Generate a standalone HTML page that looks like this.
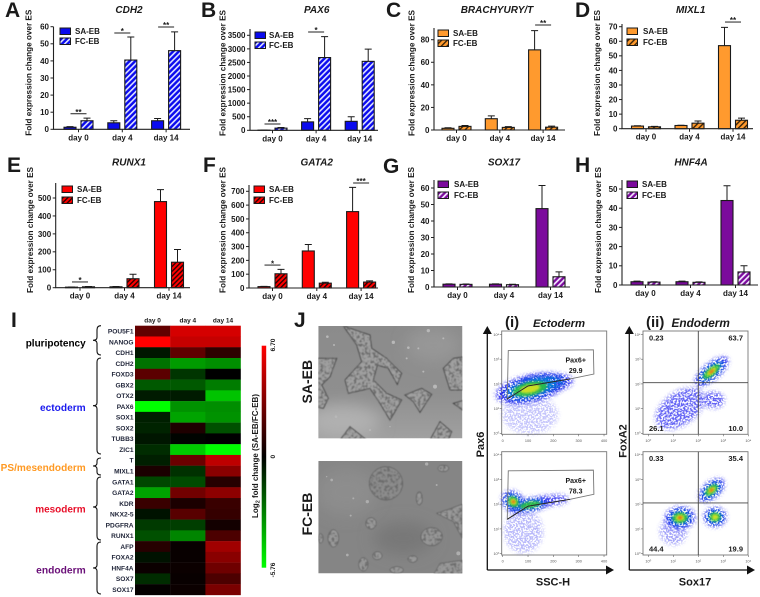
<!DOCTYPE html>
<html lang="en">
<head>
<meta charset="utf-8">
<title>Gene expression figure</title>
<style>
html,body{margin:0;padding:0;background:#fff;}
svg{display:block;font-family:"Liberation Sans",sans-serif;}
text{fill:#1a1a1a;}
.bold{font-weight:bold;}
</style>
</head>
<body>
<svg id="figure" xmlns="http://www.w3.org/2000/svg" width="760" height="597" viewBox="0 0 760 597">
<defs>
<pattern id="hatch-blue" patternUnits="userSpaceOnUse" width="4" height="4" patternTransform="rotate(-45)"><rect width="4" height="4" fill="#0a0aee"/><rect width="4" height="1.6" fill="#dfe3ff"/></pattern>
<pattern id="hatch-orange" patternUnits="userSpaceOnUse" width="4" height="4" patternTransform="rotate(-45)"><rect width="4" height="4" fill="#ff9a2e"/><rect width="4" height="1.4" fill="#3a2408"/></pattern>
<pattern id="hatch-red" patternUnits="userSpaceOnUse" width="3.4" height="3.4" patternTransform="rotate(-45)"><rect width="3.4" height="3.4" fill="#ff0000"/><rect width="3.4" height="1.4" fill="#300000"/></pattern>
<pattern id="hatch-purple" patternUnits="userSpaceOnUse" width="4" height="4" patternTransform="rotate(-45)"><rect width="4" height="4" fill="#7b0a9c"/><rect width="4" height="1.7" fill="#f3e6ff"/></pattern>
<linearGradient id="colorbar-gradient" x1="0" y1="0" x2="0" y2="1"><stop offset="0" stop-color="#ff0000"/><stop offset=".5" stop-color="#000"/><stop offset="1" stop-color="#00ff00"/></linearGradient>
<linearGradient id="sa-bg" x1="0" y1="0" x2="0" y2="1"><stop offset="0" stop-color="#8b8b8b"/><stop offset=".6" stop-color="#8f8f8f"/><stop offset="1" stop-color="#a0a0a0"/></linearGradient>
<filter id="blur-big" x="-50%" y="-50%" width="200%" height="200%"><feGaussianBlur stdDeviation="22"/></filter>
<filter id="soft" x="-30%" y="-30%" width="160%" height="160%"><feGaussianBlur stdDeviation="1.1"/></filter>
<filter id="speckle" x="-40%" y="-40%" width="180%" height="180%">
  <feGaussianBlur in="SourceGraphic" stdDeviation="2.5" result="b"/>
  <feTurbulence type="fractalNoise" baseFrequency="0.6" numOctaves="1" seed="7" result="n"/>
  <feColorMatrix in="n" type="matrix" values="0 0 0 0 0  0 0 0 0 0  0 0 0 0 0  9 0 0 0 -3.9" result="m"/>
  <feComposite in="b" in2="m" operator="in" result="c"/>
  <feGaussianBlur in="c" stdDeviation="0.2"/>
</filter>
<filter id="cells" x="0" y="0" width="100%" height="100%">
  <feTurbulence type="fractalNoise" baseFrequency="0.12" numOctaves="2" seed="4" result="n"/>
  <feColorMatrix in="n" type="matrix" values="0 0 0 0 0.15  0 0 0 0 0.15  0 0 0 0 0.15  5 0 0 0 -2.3" result="d"/>
  <feComposite in="d" in2="SourceAlpha" operator="in" result="dk"/>
  <feMerge result="mg"><feMergeNode in="SourceGraphic"/><feMergeNode in="dk"/></feMerge>
  <feGaussianBlur in="mg" stdDeviation="1.5"/>
</filter>
<clipPath id="clip-sa"><rect x="85" y="63" width="432" height="337"/></clipPath>
<clipPath id="clip-fc"><rect x="85" y="468" width="432" height="337"/></clipPath>
</defs>

<g id="bar-charts"></g>

<g class="bold" font-size="21">
<text x="5" y="17">A</text>
<text x="201" y="17">B</text>
<text x="386" y="17">C</text>
<text x="575" y="17">D</text>
<text x="7" y="172">E</text>
<text x="203" y="172">F</text>
<text x="383" y="173">G</text>
<text x="575" y="172">H</text>
<text x="11" y="327">I</text>
<text x="294" y="327">J</text>
</g>

<g id="heatmap"></g>

<g class="bold" font-size="10" text-anchor="end">
<text x="85.7" y="346.5" textLength="60" lengthAdjust="spacingAndGlyphs" style="fill:#000">pluripotency</text>
<text x="85.7" y="411" textLength="45.7" lengthAdjust="spacingAndGlyphs" style="fill:#1a1aee">ectoderm</text>
<text x="85.7" y="470.8" textLength="85" lengthAdjust="spacingAndGlyphs" style="fill:#ff9922">PS/mesendoderm</text>
<text x="85.7" y="512.5" textLength="50.5" lengthAdjust="spacingAndGlyphs" style="fill:#e8102a">mesoderm</text>
<text x="85.7" y="573.5" textLength="49.5" lengthAdjust="spacingAndGlyphs" style="fill:#6a0f78">endoderm</text>
</g>
<g fill="none" stroke="#111" stroke-width="1.1">
<path d="M101 325.7q-4 0-4 4V337.3q0 3-4 3q4 0 4 3V351q0 4 4 4"/>
<path d="M101 358q-4 0-4 4V402.7q0 3-4 3q4 0 4 3V450q0 4 4 4"/>
<path d="M101 458q-4 0-4 3V463q0 3-4 3q4 0 4 3V472q0 3 4 3"/>
<path d="M101 477q-4 0-4 4V504q0 3-4 3q4 0 4 3V536q0 4 4 4"/>
<path d="M101 542q-4 0-4 4V565q0 3-4 3q4 0 4 3V590q0 4 4 4"/>
</g>

<g>
<rect x="261.7" y="345.7" width="4.5" height="222" fill="url(#colorbar-gradient)"/>
<text class="bold" font-size="6.5" text-anchor="middle" transform="translate(275,345) rotate(-90)">6.70</text>
<text class="bold" font-size="6.5" text-anchor="middle" transform="translate(275,456.7) rotate(-90)">0</text>
<text class="bold" font-size="6.5" text-anchor="middle" transform="translate(275,570) rotate(-90)">-5.76</text>
<text class="bold" font-size="8" text-anchor="middle" transform="translate(258,456) rotate(-90)">Log<tspan font-size="5.5" dy="1.5">2</tspan><tspan dy="-1.5"> fold change (SA-EB/FC-EB)</tspan></text>
</g>

<g transform="translate(290,305) scale(.33333)">
<g clip-path="url(#clip-sa)">
<rect x="85" y="63" width="432" height="337" fill="url(#sa-bg)"/>
<ellipse cx="160" cy="350" rx="110" ry="50" fill="#b0b0b0" filter="url(#blur-big)"/>
<ellipse cx="430" cy="120" rx="80" ry="50" fill="#979797" filter="url(#blur-big)"/>
<g filter="url(#cells)" fill="#a0a0a0" stroke="#444" stroke-width="3">
<path d="M160 63L240 90L245 130L290 160L335 205L322 238L295 190L262 180L250 225L290 265L335 285L300 345L270 295L240 250L175 265L165 225L215 170L200 120Z"/>
<path d="M345 270L395 250L425 268L390 322L370 290Z"/>
<path d="M460 190L490 160L525 155V255H480Z"/>
<path d="M75 160H140L120 215L95 240L115 280L100 310L75 305Z"/>
<path d="M150 405L180 365L230 405Z"/>
<path d="M420 405L450 350L485 380L475 405Z"/>
<path d="M490 295L525 285V320Z"/>
</g>
<g fill="#b8b8b8">
<circle cx="112" cy="95" r="4"/><circle cx="132" cy="120" r="3"/><circle cx="310" cy="112" r="5"/><circle cx="355" cy="128" r="4"/><circle cx="415" cy="77" r="5"/><circle cx="435" cy="245" r="6"/><circle cx="460" cy="100" r="3"/><circle cx="385" cy="130" r="3"/><circle cx="350" cy="160" r="3"/><circle cx="138" cy="335" r="4"/><circle cx="240" cy="375" r="3"/><circle cx="400" cy="200" r="3"/><circle cx="300" cy="365" r="2"/>
</g>
</g>
<g clip-path="url(#clip-fc)">
<rect x="85" y="468" width="432" height="337" fill="#858585"/>
<ellipse cx="170" cy="560" rx="90" ry="70" fill="#8d8d8d" filter="url(#blur-big)"/>
<ellipse cx="340" cy="700" rx="90" ry="50" fill="#787878" filter="url(#blur-big)"/>
<g filter="url(#cells)" fill="#999" stroke="#3a3a3a" stroke-width="1.5">
<ellipse cx="288" cy="535" rx="50" ry="50" fill="#8c8c8c"/>
<ellipse cx="425" cy="695" rx="32" ry="27" fill="#969696"/>
<path d="M440 625L517 598V700L490 650Z"/>
<path d="M430 810L450 775L525 765V810Z"/>
<ellipse cx="130" cy="700" rx="16" ry="26"/>
<ellipse cx="243" cy="655" rx="16" ry="17"/>
<ellipse cx="388" cy="580" rx="9" ry="20"/>
<ellipse cx="262" cy="752" rx="14" ry="12"/>
<ellipse cx="220" cy="778" rx="14" ry="20"/>
<ellipse cx="368" cy="762" rx="14" ry="10"/>
<ellipse cx="320" cy="795" rx="20" ry="10"/>
<ellipse cx="460" cy="490" rx="16" ry="10"/>
<ellipse cx="92" cy="700" rx="7" ry="14"/>
</g>
<g fill="#aeaeae">
<circle cx="125" cy="525" r="4"/><circle cx="190" cy="580" r="3"/><circle cx="410" cy="477" r="5"/><circle cx="182" cy="632" r="3"/><circle cx="232" cy="590" r="5"/><circle cx="440" cy="540" r="3"/><circle cx="172" cy="750" r="4"/><circle cx="505" cy="745" r="6"/><circle cx="110" cy="515" r="2"/>
</g>
</g>
</g>
<text class="bold" font-size="14" text-anchor="middle" transform="translate(312,381.7) rotate(-90)">SA-EB</text>
<text class="bold" font-size="14" text-anchor="middle" transform="translate(312,514) rotate(-90)">FC-EB</text>

<g id="flow-plots"></g>

<g>
<text class="bold" font-size="15" x="505" y="327">(i)</text>
<text class="bold" font-style="italic" font-size="11.3" x="533" y="327">Ectoderm</text>
<text class="bold" font-size="15" x="646" y="327">(ii)</text>
<text class="bold" font-style="italic" font-size="11.8" x="671.5" y="327">Endoderm</text>
<text class="bold" font-size="11" text-anchor="middle" x="553" y="585.5">SSC-H</text>
<text class="bold" font-size="11" text-anchor="middle" x="695" y="585.5">Sox17</text>
<text class="bold" font-size="11" text-anchor="middle" transform="translate(484,444.5) rotate(-90)">Pax6</text>
<text class="bold" font-size="11" text-anchor="middle" transform="translate(626.5,441) rotate(-90)">FoxA2</text>
<g fill="none" stroke="#111" stroke-width="1.3">
<path d="M487.3 570V332"/>
<path d="M487.3 570H608"/>
<path d="M629.3 570V332"/>
<path d="M629.3 570H749"/>
</g>
<g fill="#111">
<path d="M487.3 326l-4.5 8h9z"/>
<path d="M614 570l-8-4.5v9z"/>
<path d="M629.3 326l-4.5 8h9z"/>
<path d="M755 570l-8-4.5v9z"/>
</g>
</g>

<script>
// ---------- Bar chart data ----------
const dayCategories = ['day 0', 'day 4', 'day 14'];
const legendLabels = ['SA-EB', 'FC-EB'];

const cdh2Sa = [1.2, 3.8, 5];
const cdh2SaErr = [0.4, 1.2, 1.3];
const cdh2Fc = [5, 40.5, 46];
const cdh2FcErr = [1.5, 13.5, 11];
const cdh2Ticks = [0, 10, 20, 30, 40, 50, 60];
const cdh2SigGroups = [0, 1, 2];
const cdh2SigLevels = [9.1, 56.3, 59.8];
const cdh2SigLabels = ['**', '*', '**'];

const pax6Sa = [5, 310, 330];
const pax6SaErr = [5, 120, 170];
const pax6Fc = [80, 2680, 2540];
const pax6FcErr = [25, 770, 450];
const pax6Ticks = [0, 500, 1000, 1500, 2000, 2500, 3000, 3500];
const pax6SigGroups = [0, 1];
const pax6SigLevels = [232, 3622];
const pax6SigLabels = ['***', '*'];

const brachyurySa = [1.5, 10, 71];
const brachyurySaErr = [0.5, 2.5, 17];
const brachyuryFc = [3.2, 2.3, 2.5];
const brachyuryFcErr = [0.8, 0.7, 0.9];
const brachyuryTicks = [0, 20, 40, 60, 80];
const brachyurySigGroups = [2];
const brachyurySigLevels = [93];
const brachyurySigLabels = ['**'];

const mixl1Sa = [1.8, 2.2, 57];
const mixl1SaErr = [0.2, 0.2, 12.5];
const mixl1Fc = [1.3, 3.8, 5.8];
const mixl1FcErr = [0.3, 1.5, 1.5];
const mixl1Ticks = [0, 10, 20, 30, 40, 50, 60, 70];
const mixl1SigGroups = [2];
const mixl1SigLevels = [73.2];
const mixl1SigLabels = ['**'];

const runx1Sa = [3, 5, 480];
const runx1SaErr = [1, 2, 67];
const runx1Fc = [5, 50, 142];
const runx1FcErr = [2, 25, 71];
const runx1Ticks = [0, 100, 200, 300, 400, 500];
const runx1SigGroups = [0];
const runx1SigLevels = [32];
const runx1SigLabels = ['*'];

const gata2Sa = [10, 268, 553];
const gata2SaErr = [2, 47, 175];
const gata2Fc = [103, 35, 43];
const gata2FcErr = [32, 7, 9];
const gata2Ticks = [0, 100, 200, 300, 400, 500, 600, 700];
const gata2SigGroups = [0, 2];
const gata2SigLevels = [166, 760];
const gata2SigLabels = ['*', '***'];

const sox17Sa = [1.7, 1.7, 47.5];
const sox17SaErr = [0.2, 0.2, 14];
const sox17Fc = [1.6, 1.4, 6.2];
const sox17FcErr = [0.2, 0.3, 3];
const sox17Ticks = [0, 10, 20, 30, 40, 50, 60];
const sox17SigGroups = [];
const sox17SigLevels = [];
const sox17SigLabels = [];

const hnf4aSa = [1.7, 1.7, 44];
const hnf4aSaErr = [0.3, 0.3, 7.7];
const hnf4aFc = [1.5, 1.4, 6.8];
const hnf4aFcErr = [0.2, 0.2, 3.2];
const hnf4aTicks = [0, 10, 20, 30, 40, 50];
const hnf4aSigGroups = [];
const hnf4aSigLevels = [];
const hnf4aSigLabels = [];

// ---------- Heatmap data ----------
const heatGenes = ['POU5F1','NANOG','CDH1','CDH2','FOXD3','GBX2','OTX2','PAX6','SOX1','SOX2','TUBB3','ZIC1','T','MIXL1','GATA1','GATA2','KDR','NKX2-5','PDGFRA','RUNX1','AFP','FOXA2','HNF4A','SOX7','SOX17'];
const heatDay0 = [2.6, 6.7, -0.5, -2.6, 2.4, -2.0, -0.6, -5.76, -0.7, -0.8, -0.5, -1.0, -0.7, 0.7, -1.6, -3.7, 1.5, -0.4, -1.3, -1.8, 1.0, -0.4, 0.3, -1.0, 0.1];
const heatDay4 = [5.6, 5.2, 2.5, -3.5, -1.2, -2.0, -0.6, -3.3, -3.7, 0.8, -0.1, -4.6, 2.8, -1.1, -1.7, 3.0, 0.7, 2.3, -1.4, -3.0, 0.2, 0.2, 0.3, 0.2, 0.3];
const heatDay14 = [5.6, 5.2, 1.2, -3.2, 0, -2.8, -4.4, -3.2, -3.3, -1.8, 0, -5.76, 5.0, 3.6, 1.0, 3.7, 1.5, 1.4, 0.5, 2.0, 4.2, 3.6, 2.9, 2.0, 3.2];

// ---------- Flow cytometry cluster data (axis units) ----------
const flowSscTicks = [0, 100, 200, 300, 400];
const flowLogTicks = [0, 1, 2, 3, 4];
const flowLogLabels = ['10\u2070', '10\u00B9', '10\u00B2', '10\u00B3', '10\u2074'];

const ectoTopX = [108, 167, 108];
const ectoTopY = [1.8, 2.03, 0.75];
const ectoTopSpreadX = [125, 100, 100];
const ectoTopSpreadY = [0.5, 0.35, 0.7];
const ectoTopTilt = [-12, -5, 0];
const ectoTopPeak = [3, 1, 0];
const ectoTopDensity = [1, 1, 0.25];

const ectoBottomX = [42, 108, 193, 82];
const ectoBottomY = [2.1, 1.97, 2.16, 0.9];
const ectoBottomSpreadX = [35, 75, 60, 70];
const ectoBottomSpreadY = [0.45, 0.25, 0.2, 0.8];
const ectoBottomTilt = [-50, -10, -5, 0];
const ectoBottomPeak = [4, 2, 0, 0];
const ectoBottomDensity = [1, 1, 0.8, 0.3];

const endoTopX = [2.53, 1.27, 2.6];
const endoTopY = [2.5, 1.0, 1.35];
const endoTopSpreadX = [0.75, 1.0, 0.4];
const endoTopSpreadY = [0.3, 0.6, 0.3];
const endoTopTilt = [-40, -35, 0];
const endoTopPeak = [4, 0, 0];
const endoTopDensity = [1, 0.7, 0.7];

const endoBottomX = [1.27, 2.53, 2.67, 1.0];
const endoBottomY = [1.45, 2.57, 1.48, 0.9];
const endoBottomSpreadX = [0.55, 0.55, 0.4, 0.5];
const endoBottomSpreadY = [0.4, 0.3, 0.35, 0.5];
const endoBottomTilt = [-5, -40, 0, 0];
const endoBottomPeak = [4, 4, 3, 0];
const endoBottomDensity = [1, 1, 1, 0.4];

const gateSsc = [22, 358, 360, 266, 100, 18];
const gateLog = [3.35, 3.38, 2.4, 2.2, 1.92, 1.39];
const gatePercents = ['29.9', '78.3'];
const quadrantSplitX = 2.0;
const quadrantSplitY = 2.05;
const quadrantTop = ['0.23', '63.7', '26.1', '10.0'];
const quadrantBottom = ['0.33', '35.4', '44.4', '19.9'];

// ---------- Helpers ----------
const NS = 'http://www.w3.org/2000/svg';
function make(tag, attrs, parent, content) {
  const node = document.createElementNS(NS, tag);
  for (const key in attrs) node.setAttribute(key, attrs[key]);
  if (content !== undefined) node.textContent = content;
  parent.appendChild(node);
  return node;
}

// ---------- Bar charts ----------
const chartRoot = document.getElementById('bar-charts');
const chartDefs = [
  {gene:'CDH2', sa:cdh2Sa, saErr:cdh2SaErr, fc:cdh2Fc, fcErr:cdh2FcErr, ticks:cdh2Ticks, sigG:cdh2SigGroups, sigV:cdh2SigLevels, sigL:cdh2SigLabels,
   fill:'#0a0aee', hatch:'hatch-blue', axisX:53.5, axisEnd:190, top:26.7, y0:129.3, refV:60, refY:26.7, c0:78.5, step:43.8, titleX:129, titleY:13, ylabX:31.5, ylabY:72.7, legX:60, legY:[28,38], legTX:75},
  {gene:'PAX6', sa:pax6Sa, saErr:pax6SaErr, fc:pax6Fc, fcErr:pax6FcErr, ticks:pax6Ticks, sigG:pax6SigGroups, sigV:pax6SigLevels, sigL:pax6SigLabels,
   fill:'#0a0aee', hatch:'hatch-blue', axisX:250, axisEnd:378, top:29, y0:130.3, refV:3500, refY:35.3, c0:272.5, step:43.6, titleX:316.7, titleY:13, ylabX:225.5, ylabY:73, legX:255, legY:[32,42], legTX:269},
  {gene:'BRACHYURY/T', sa:brachyurySa, saErr:brachyurySaErr, fc:brachyuryFc, fcErr:brachyuryFcErr, ticks:brachyuryTicks, sigG:brachyurySigGroups, sigV:brachyurySigLevels, sigL:brachyurySigLabels,
   fill:'#ff9a2e', hatch:'hatch-orange', axisX:434, axisEnd:565, top:28, y0:130, refV:80, refY:39.7, c0:456.5, step:43.3, titleX:497, titleY:13, ylabX:414.5, ylabY:73, legX:438, legY:[30,40], legTX:453},
  {gene:'MIXL1', sa:mixl1Sa, saErr:mixl1SaErr, fc:mixl1Fc, fcErr:mixl1FcErr, ticks:mixl1Ticks, sigG:mixl1SigGroups, sigV:mixl1SigLevels, sigL:mixl1SigLabels,
   fill:'#ff9a2e', hatch:'hatch-orange', axisX:622, axisEnd:753, top:24, y0:128.7, refV:70, refY:26.7, c0:646, step:43.5, titleX:690.7, titleY:13, ylabX:600, ylabY:73, legX:627, legY:[28,39], legTX:643},
  {gene:'RUNX1', sa:runx1Sa, saErr:runx1SaErr, fc:runx1Fc, fcErr:runx1FcErr, ticks:runx1Ticks, sigG:runx1SigGroups, sigV:runx1SigLevels, sigL:runx1SigLabels,
   fill:'#ff0000', hatch:'hatch-red', axisX:55.7, axisEnd:190, top:183, y0:287.7, refV:500, refY:198, c0:80, step:44.5, titleX:129, titleY:165.5, ylabX:33, ylabY:230, legX:62, legY:[186,197], legTX:77},
  {gene:'GATA2', sa:gata2Sa, saErr:gata2SaErr, fc:gata2Fc, fcErr:gata2FcErr, ticks:gata2Ticks, sigG:gata2SigGroups, sigV:gata2SigLevels, sigL:gata2SigLabels,
   fill:'#ff0000', hatch:'hatch-red', axisX:249, axisEnd:378, top:185, y0:288, refV:700, refY:191.3, c0:272.5, step:44.3, titleX:316.7, titleY:165.5, ylabX:225.5, ylabY:230, legX:254, legY:[186,197], legTX:269},
  {gene:'SOX17', sa:sox17Sa, saErr:sox17SaErr, fc:sox17Fc, fcErr:sox17FcErr, ticks:sox17Ticks, sigG:sox17SigGroups, sigV:sox17SigLevels, sigL:sox17SigLabels,
   fill:'#7b0a9c', hatch:'hatch-purple', axisX:434, axisEnd:570, top:180, y0:287, refV:60, refY:188, c0:457.5, step:46.5, titleX:504, titleY:165.5, ylabX:414, ylabY:230, legX:438, legY:[181,192], legTX:454},
  {gene:'HNF4A', sa:hnf4aSa, saErr:hnf4aSaErr, fc:hnf4aFc, fcErr:hnf4aFcErr, ticks:hnf4aTicks, sigG:hnf4aSigGroups, sigV:hnf4aSigLevels, sigL:hnf4aSigLabels,
   fill:'#7b0a9c', hatch:'hatch-purple', axisX:622, axisEnd:758, top:180, y0:285, refV:50, refY:189, c0:645.5, step:45, titleX:691, titleY:165.5, ylabX:601, ylabY:230, legX:627, legY:[181,192], legTX:642}
];
const BAR_W = 12, BAR_OFF = 2.5;

chartDefs.forEach(function (c) {
  const key = c.gene.toLowerCase().replace('/', '-');
  const yScale = function (v) { return c.y0 - (c.y0 - c.refY) * v / c.refV; };
  const xScale = function (i) { return c.c0 + i * c.step; };

  const g = make('g', {}, chartRoot);
  
  

  const title = make('text', {x:c.titleX, y:c.titleY, 'text-anchor':'middle', 'font-size':10, 'font-weight':'bold', 'font-style':'italic'}, g, c.gene);
  
  

  const ylab = make('text', {transform:'translate(' + c.ylabX + ',' + c.ylabY + ') rotate(-90)', 'text-anchor':'middle', 'font-size':8.5, 'font-weight':'bold', textLength:126, lengthAdjust:'spacingAndGlyphs'}, g, 'Fold expression change over ES');
  
  

  [{vals:c.sa, errs:c.saErr, fill:c.fill, off:-BAR_OFF - BAR_W, tag:'sa'},
   {vals:c.fc, errs:c.fcErr, fill:'url(#' + c.hatch + ')', off:BAR_OFF, tag:'fc'}].forEach(function (s) {
    s.vals.forEach(function (v, i) {
      const left = xScale(i) + s.off;
      const cx = left + BAR_W / 2;
      const errLine = make('path', {d:'M' + cx + ' ' + yScale(v) + 'V' + yScale(v + s.errs[i]) + 'm-3.5 0h7', fill:'none', stroke:'#1a1a1a', 'stroke-width':1}, g);
      
      
      const bar = make('rect', {x:left, y:yScale(v), width:BAR_W, height:Math.max(0, c.y0 - yScale(v)), fill:s.fill, stroke:'#1a1a1a', 'stroke-width':1.1}, g);
      
      
    });
  });

  const axes = make('path', {d:'M' + c.axisX + ' ' + c.top + 'V' + c.y0 + 'H' + c.axisEnd, fill:'none', stroke:'#222', 'stroke-width':1.1}, g);
  
  

  c.ticks.forEach(function (t) {
    const tick = make('line', {x1:c.axisX - 3, x2:c.axisX, y1:yScale(t), y2:yScale(t), stroke:'#222', 'stroke-width':1}, g);
    
    
    const lab = make('text', {x:c.axisX - 4.5, y:yScale(t) + 2.9, 'text-anchor':'end', 'font-size':8, 'font-weight':'bold'}, g, String(t));
    
    
  });

  dayCategories.forEach(function (d, i) {
    const tick = make('line', {x1:xScale(i), x2:xScale(i), y1:c.y0, y2:c.y0 + 3, stroke:'#222', 'stroke-width':1}, g);
    
    
    const lab = make('text', {x:xScale(i), y:c.y0 + 11, 'text-anchor':'middle', 'font-size':8, 'font-weight':'bold'}, g, d);
    
    
  });

  c.sigG.forEach(function (grp, i) {
    const y = yScale(c.sigV[i]);
    const line = make('line', {x1:xScale(grp) - 8, x2:xScale(grp) + 8, y1:y, y2:y, stroke:'#222', 'stroke-width':1}, g);
    
    
    const star = make('text', {x:xScale(grp), y:y + 1.2, 'text-anchor':'middle', 'font-size':8, 'font-weight':'bold'}, g, c.sigL[i]);
    
    
  });

  legendLabels.forEach(function (label, i) {
    const sw = make('rect', {x:c.legX, y:c.legY[i], width:10.5, height:6.5, fill:i ? 'url(#' + c.hatch + ')' : c.fill, stroke:'#1a1a1a', 'stroke-width':1}, g);
    
    
    const txt = make('text', {x:c.legTX, y:c.legY[i] + 6.2, 'font-size':8, 'font-weight':'bold'}, g, label);
    
    
  });
});

// ---------- Heatmap ----------
const heatRoot = document.getElementById('heatmap');
const heatLeft = 135, heatTop = 325.7, heatCellW = 35.2, heatCellH = 10.77;
function heatColor(v) {
  if (v >= 0) return 'rgb(' + Math.round(255 * v / 6.7) + ',0,0)';
  return 'rgb(0,' + Math.round(255 * -v / 5.76) + ',0)';
}
[heatDay0, heatDay4, heatDay14].forEach(function (col, c) {
  const head = make('text', {x:heatLeft + heatCellW * (c + .5), y:322.5, 'text-anchor':'middle', 'font-size':6.5, 'font-weight':'bold'}, heatRoot, dayCategories[c]);
  
  
  col.forEach(function (v, r) {
    const cell = make('rect', {x:heatLeft + c * heatCellW, y:heatTop + r * heatCellH, width:heatCellW + .2, height:heatCellH + .2, fill:heatColor(v)}, heatRoot);
    
    
  });
});
heatGenes.forEach(function (gene, r) {
  const lab = make('text', {x:133.5, y:heatTop + r * heatCellH + 7.8, 'text-anchor':'end', 'font-size':6.6, 'font-weight':'bold', style:'fill:#1f2438'}, heatRoot, gene);
  
  
});

// ---------- Flow plots ----------
const flowRoot = document.getElementById('flow-plots');
const flowColors = ['#1c1cf0', '#0090d0', '#2cc33a', '#e8e61e', '#f03a0c'];
const flowSizes = [1.1, .8, .55, .32, .15];
const flowDefs = [
  {id:'ectoderm-top', mode:'ssc', boxY:331, y0:433.3, xs:ectoTopX, ys:ectoTopY, sx:ectoTopSpreadX, sy:ectoTopSpreadY, tilt:ectoTopTilt, peak:ectoTopPeak, dens:ectoTopDensity},
  {id:'ectoderm-bottom', mode:'ssc', boxY:451.7, y0:553.6, xs:ectoBottomX, ys:ectoBottomY, sx:ectoBottomSpreadX, sy:ectoBottomSpreadY, tilt:ectoBottomTilt, peak:ectoBottomPeak, dens:ectoBottomDensity},
  {id:'endoderm-top', mode:'log', boxY:331, y0:433.3, xs:endoTopX, ys:endoTopY, sx:endoTopSpreadX, sy:endoTopSpreadY, tilt:endoTopTilt, peak:endoTopPeak, dens:endoTopDensity},
  {id:'endoderm-bottom', mode:'log', boxY:451.7, y0:553.6, xs:endoBottomX, ys:endoBottomY, sx:endoBottomSpreadX, sy:endoBottomSpreadY, tilt:endoBottomTilt, peak:endoBottomPeak, dens:endoBottomDensity}
];
const boxW = 105, boxH = 103.3, perDecade = 24.7;

flowDefs.forEach(function (p, index) {
  const isSsc = p.mode === 'ssc';
  const boxX = isSsc ? 501.7 : 643;
  const xOrigin = isSsc ? 502.7 : 648.3;
  const xUnit = isSsc ? 0.2533 : 25;
  const xScale = function (v) { return xOrigin + v * xUnit; };
  const yScale = function (v) { return p.y0 - v * perDecade; };

  const g = make('g', {}, flowRoot);
  
  

  const box = make('rect', {x:boxX, y:p.boxY, width:boxW, height:boxH, fill:'#fff', stroke:'#777', 'stroke-width':.9}, g);
  
  

  for (let level = 0; level <= 4; level++) {
    p.xs.forEach(function (x, i) {
      if (level > p.peak[i]) return;
      const scaleF = flowSizes[level];
      const e = make('ellipse', {
        cx:xScale(x), cy:yScale(p.ys[i]),
        rx:p.sx[i] * xUnit * scaleF, ry:p.sy[i] * perDecade * scaleF,
        fill:flowColors[level],
        opacity:level === 0 ? p.dens[i] : .85,
        filter:level <= 1 ? 'url(#speckle)' : 'url(#soft)',
        transform:'rotate(' + p.tilt[i] + ' ' + xScale(x) + ' ' + yScale(p.ys[i]) + ')'
      }, g);
      
      
    });
  }

  const xTicks = isSsc ? flowSscTicks : flowLogTicks;
  xTicks.forEach(function (t, i) {
    const tk = make('line', {x1:xScale(t), x2:xScale(t), y1:p.boxY + boxH, y2:p.boxY + boxH + 2, stroke:'#666', 'stroke-width':.6}, g);
    
    
    const lb = make('text', {x:xScale(t), y:p.boxY + boxH + 7.5, 'text-anchor':'middle', 'font-size':3.8, style:'fill:#555'}, g, isSsc ? String(t) : flowLogLabels[i]);
    
    
  });
  flowLogTicks.forEach(function (t, i) {
    const tk = make('line', {x1:boxX - 2, x2:boxX, y1:yScale(t), y2:yScale(t), stroke:'#666', 'stroke-width':.6}, g);
    
    
    const lb = make('text', {x:boxX - 2.5, y:yScale(t) + 1.4, 'text-anchor':'end', 'font-size':3.8, style:'fill:#555'}, g, flowLogLabels[i]);
    
    
  });

  if (isSsc) {
    const pts = gateSsc.map(function (s, i) { return xScale(s) + ',' + yScale(gateLog[i]); }).join(' ');
    const gate = make('polygon', {points:pts, fill:'none', stroke:'#777', 'stroke-width':.9}, g);
    
    
    const low = gateSsc.slice(3).map(function (s, i) { return xScale(s) + ',' + yScale(gateLog[i + 3]); }).join(' ');
    const lowLine = make('polyline', {points:low, fill:'none', stroke:'#222', 'stroke-width':.9}, g);
    
    
    const t1 = make('text', {x:575.7, y:p.boxY + 31.5, 'text-anchor':'middle', 'font-size':7, 'font-weight':'bold'}, g, 'Pax6+');
    
    
    const t2 = make('text', {x:575.7, y:p.boxY + 42, 'text-anchor':'middle', 'font-size':7, 'font-weight':'bold'}, g, gatePercents[index]);
    
    
  } else {
    const q = make('path', {d:'M' + xScale(quadrantSplitX) + ' ' + p.boxY + 'v' + boxH + 'M' + boxX + ' ' + yScale(quadrantSplitY) + 'h' + boxW, fill:'none', stroke:'#444', 'stroke-width':.9}, g);
    
    
    const vals = index === 2 ? quadrantTop : quadrantBottom;
    vals.forEach(function (v, i) {
      const right = i % 2 === 1;
      const lower = i >= 2;
      const lab = make('text', {x:right ? boxX + boxW - 5 : boxX + 6, y:lower ? p.boxY + boxH - 3.5 : p.boxY + 9.5, 'text-anchor':right ? 'end' : 'start', 'font-size':7.5, 'font-weight':'bold'}, g, v);
      
      
    });
  }
});
</script>
</svg>
</body>
</html>
